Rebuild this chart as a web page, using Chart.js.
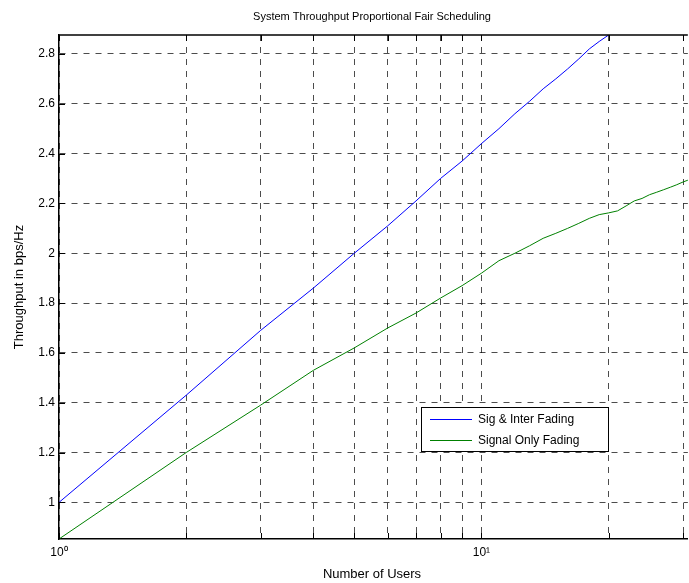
<!DOCTYPE html>
<html>
<head>
<meta charset="utf-8">
<script src="https://cdn.jsdelivr.net/npm/chart.js@4/dist/chart.umd.min.js"></script>
<style>
  html, body { margin: 0; padding: 0; background: #fff; }
  #wrap { width: 689px; height: 583px; }
</style>
</head>
<body>
<div id="wrap"><canvas id="myChart" width="689" height="583"></canvas></div>
<script>
// values
var users_sig = [1, 2, 3, 4, 5, 6, 7, 8, 9, 10, 11, 12, 13, 14, 15, 16, 17, 18, 19, 20];
var thr_sig_inter = [1.0, 1.43, 1.69, 1.86, 2.0, 2.11, 2.21, 2.30, 2.37, 2.44, 2.50, 2.56, 2.61, 2.66, 2.70, 2.74, 2.78, 2.82, 2.85, 2.876];
var users_only = [1, 2, 3, 4, 5, 6, 7, 8, 9, 10, 11, 12, 13, 14, 15, 16, 17, 18, 19, 20, 21, 22, 23, 24, 25, 26, 27, 28, 29, 30, 31];
var thr_signal_only = [0.853, 1.20, 1.39, 1.53, 1.62, 1.70, 1.76, 1.82, 1.87, 1.92, 1.97, 2.00, 2.03, 2.06, 2.08, 2.10, 2.12, 2.14, 2.155, 2.162, 2.17, 2.19, 2.21, 2.22, 2.235, 2.245, 2.255, 2.265, 2.275, 2.286, 2.295];
var xTicks = [1, 2, 3, 4, 5, 6, 7, 8, 9, 10, 20, 30];
var yTicks = [1, 1.2, 1.4, 1.6, 1.8, 2, 2.2, 2.4, 2.6, 2.8];
var seriesNames = ['Sig & Inter Fading', 'Signal Only Fading'];

var font = '"Liberation Sans", Arial, sans-serif';

function pts(xs, ys) {
    return xs.map(function (x, i) { return { x: x, y: ys[i] }; });
}

// title, axis titles, top border, inward ticks, legend box
var extras = {
    id: 'extras',
    afterDraw: function (chart) {
        var c = chart.ctx, a = chart.chartArea;
        var xs = chart.scales.x, ys = chart.scales.y;
        c.save();
        c.strokeStyle = '#000';
        c.lineWidth = 1.5;
        c.beginPath();
        c.moveTo(a.left, a.top);
        c.lineTo(a.right, a.top);
        c.stroke();
        // inward ticks
        c.lineWidth = 1;
        c.beginPath();
        xTicks.forEach(function (v) {
            var px = Math.round(xs.getPixelForValue(v)) + 0.5;
            c.moveTo(px, a.bottom); c.lineTo(px, a.bottom - 6);
            c.moveTo(px, a.top); c.lineTo(px, a.top + 6);
        });
        yTicks.forEach(function (v) {
            var py = Math.round(ys.getPixelForValue(v)) + 0.5;
            c.moveTo(a.left, py); c.lineTo(a.left + 6, py);
        });
        c.stroke();

        c.fillStyle = '#000';
        c.textAlign = 'center';
        c.textBaseline = 'middle';
        c.font = '11px ' + font;
        c.fillText('System Throughput Proportional Fair Scheduling', (a.left + 685) / 2, 17);
        c.font = '13px ' + font;
        c.fillText('Number of Users', (a.left + 685) / 2, 574);
        c.translate(19, (a.top + a.bottom) / 2);
        c.rotate(-Math.PI / 2);
        c.fillText('Throughput in bps/Hz', 0, 0);
        c.restore();

        // legend
        c.save();
        var lx = 421, ly = 407, lw = 187, lh = 44;
        c.fillStyle = '#fff';
        c.fillRect(lx, ly, lw, lh);
        c.strokeStyle = '#000';
        c.lineWidth = 1;
        c.strokeRect(lx + 0.5, ly + 0.5, lw, lh);
        c.font = '12px ' + font;
        c.textAlign = 'left';
        c.textBaseline = 'middle';
        chart.data.datasets.forEach(function (ds, i) {
            var yy = ly + 12.5 + i * 21;
            c.strokeStyle = ds.borderColor;
            c.beginPath();
            c.moveTo(lx + 9, yy); c.lineTo(lx + 51, yy);
            c.stroke();
            c.fillStyle = '#000';
            c.fillText(ds.label, lx + 57, yy);
        });
        c.restore();
    }
};

var sup = { 0: '\u2070', 1: '\u00b9' };

var ctx = document.getElementById('myChart').getContext('2d');
var myChart = new Chart(ctx, {
    type: 'line',
    data: {
        datasets: [{
            label: seriesNames[0],
            data: pts(users_sig, thr_sig_inter),
            borderColor: '#0000ff',
            borderWidth: 1,
            pointRadius: 0,
            tension: 0
        }, {
            label: seriesNames[1],
            data: pts(users_only, thr_signal_only),
            borderColor: '#008000',
            borderWidth: 1,
            pointRadius: 0,
            tension: 0
        }]
    },
    options: {
        responsive: false,
        animation: false,
        layout: { padding: { top: 35, right: 0, left: 0, bottom: 0 } },
        plugins: {
            legend: { display: false },
            title: { display: false },
            tooltip: { enabled: false }
        },
        scales: {
            x: {
                type: 'logarithmic',
                min: 1,
                max: 30.8,
                afterBuildTicks: function (s) { s.ticks = xTicks.map(function (v) { return { value: v }; }); },
                afterFit: function (s) { s.height = 44; },
                ticks: {
                    autoSkip: false,
                    maxRotation: 0,
                    padding: 6,
                    color: '#000',
                    font: { family: font, size: 12 },
                    callback: function (v) {
                        if (v === 1) return '10' + sup[0];
                        if (v === 10) return '10' + sup[1];
                        return '';
                    }
                },
                grid: {
                    color: 'rgba(0,0,0,0.7)',
                    drawTicks: false
                },
                border: { color: '#000', width: 1.5, dash: [6, 6] }
            },
            y: {
                min: 0.853,
                max: 2.876,
                afterBuildTicks: function (s) { s.ticks = yTicks.map(function (v) { return { value: v }; }); },
                afterFit: function (s) { s.width = 59; },
                ticks: {
                    padding: 4,
                    color: '#000',
                    font: { family: font, size: 12 },
                    callback: function (v) { return String(Number(v.toFixed(1))); }
                },
                grid: {
                    color: 'rgba(0,0,0,0.7)',
                    drawTicks: false
                },
                border: { color: '#000', width: 1.5, dash: [6, 6] }
            }
        }
    },
    plugins: [extras]
});
</script>
</body>
</html>
